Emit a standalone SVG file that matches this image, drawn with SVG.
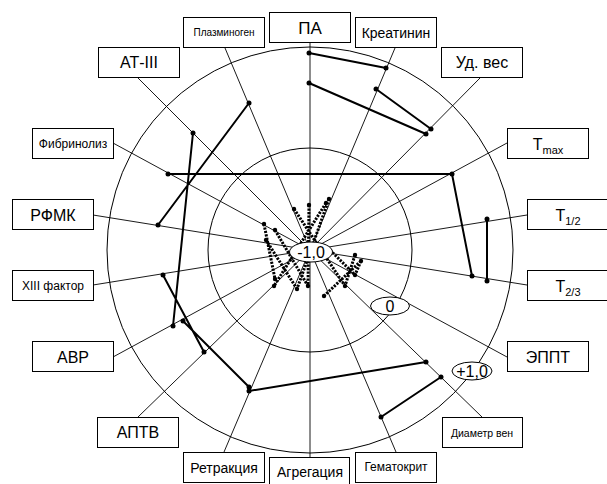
<svg xmlns="http://www.w3.org/2000/svg" width="607" height="484" viewBox="0 0 607 484">
<style>
.bx{fill:#fff;stroke:#000;stroke-width:1}
.t{font-family:"Liberation Sans",Arial,sans-serif;fill:#000;text-anchor:middle}
.ax{stroke:#000;stroke-width:0.9;fill:none}
.ring{stroke:#000;stroke-width:1;fill:none}
.sol{stroke:#000;stroke-width:2;fill:none}
.dot{stroke:#000;stroke-width:3;fill:none;stroke-dasharray:2.2 1.3}
.pt{fill:#000}
.el{fill:#fff;stroke:#000;stroke-width:1}
</style>
<rect width="607" height="484" fill="#fff"/>
<g id="rings">
<circle class="ring" cx="310" cy="250" r="203"/>
<circle class="ring" cx="310" cy="250" r="102"/>
</g>
<g id="connectors">
<line class="ax" x1="310" y1="250" x2="310" y2="43"/>
<line class="ax" x1="310" y1="250" x2="395" y2="48"/>
<line class="ax" x1="310" y1="250" x2="480" y2="78"/>
<line class="ax" x1="310" y1="250" x2="507" y2="143"/>
<line class="ax" x1="310" y1="250" x2="527" y2="215"/>
<line class="ax" x1="310" y1="250" x2="527" y2="285"/>
<line class="ax" x1="310" y1="250" x2="507" y2="357"/>
<line class="ax" x1="310" y1="250" x2="482" y2="417"/>
<line class="ax" x1="310" y1="250" x2="396" y2="452"/>
<line class="ax" x1="310" y1="250" x2="310" y2="457"/>
<line class="ax" x1="310" y1="250" x2="224" y2="452"/>
<line class="ax" x1="310" y1="250" x2="138" y2="417"/>
<line class="ax" x1="310" y1="250" x2="113" y2="357"/>
<line class="ax" x1="310" y1="250" x2="93" y2="285"/>
<line class="ax" x1="310" y1="250" x2="93" y2="215"/>
<line class="ax" x1="310" y1="250" x2="113" y2="143"/>
<line class="ax" x1="310" y1="250" x2="138" y2="78"/>
<line class="ax" x1="310" y1="250" x2="225" y2="48"/>
</g>
<g id="series-solid">
<path class="sol" d="M309,53L386,68M309,83L426,134M376,89L431,129M168,174L452,174L472,276M487,219L487,281M249,103L158,225M193,133L173,326M163,275L204,352M183,321L249,387M249,391L426,362M441,377L381,417"/>
<g class="pt">
<circle cx="309" cy="53" r="2.5"/><circle cx="386" cy="68" r="2.5"/>
<circle cx="309" cy="83" r="2.5"/><circle cx="426" cy="134" r="2.5"/>
<circle cx="376" cy="89" r="2.5"/><circle cx="431" cy="129" r="2.5"/>
<circle cx="168" cy="174" r="2.5"/><circle cx="452" cy="174" r="2.5"/><circle cx="472" cy="276" r="2.5"/>
<circle cx="487" cy="219" r="2.5"/><circle cx="487" cy="281" r="2.5"/>
<circle cx="249" cy="103" r="2.5"/><circle cx="158" cy="225" r="2.5"/>
<circle cx="193" cy="133" r="2.5"/><circle cx="173" cy="326" r="2.5"/>
<circle cx="163" cy="275" r="2.5"/><circle cx="204" cy="352" r="2.5"/>
<circle cx="183" cy="321" r="2.5"/><circle cx="249" cy="387" r="2.5"/>
<circle cx="249" cy="391" r="2.5"/><circle cx="426" cy="362" r="2.5"/>
<circle cx="441" cy="377" r="2.5"/><circle cx="381" cy="417" r="2.5"/>
</g>
</g>
<g id="series-dotted">
<path class="dot" d="M309,205L308,286M329,199L297,289M326,203L274,286M294,209L345,286M264,224L275,279M275,230L308,286M266,240L297,289M355,255L345,286M361,261L324,296M330,250L355,275M361,261L355,275"/>
<g class="pt">
<circle cx="309" cy="205" r="2.2"/><circle cx="308" cy="286" r="2.2"/>
<circle cx="329" cy="199" r="2.2"/><circle cx="297" cy="289" r="2.2"/>
<circle cx="326" cy="203" r="2.2"/><circle cx="274" cy="286" r="2.2"/>
<circle cx="294" cy="209" r="2.2"/><circle cx="345" cy="286" r="2.2"/>
<circle cx="264" cy="224" r="2.2"/><circle cx="275" cy="279" r="2.2"/>
<circle cx="275" cy="230" r="2.2"/><circle cx="266" cy="240" r="2.2"/>
<circle cx="355" cy="255" r="2.2"/><circle cx="361" cy="261" r="2.2"/>
<circle cx="324" cy="296" r="2.2"/><circle cx="355" cy="275" r="2.2"/>
</g>
</g>
<g id="scale">
<ellipse class="el" cx="311" cy="252" rx="21.5" ry="10"/>
<text class="t" x="311" y="258" font-size="16">-1,0</text>
<ellipse class="el" cx="390" cy="306" rx="19.5" ry="9"/>
<text class="t" x="390" y="312" font-size="16">0</text>
<ellipse class="el" cx="472" cy="371" rx="20" ry="9"/>
<text class="t" x="472" y="377" font-size="16">+1,0</text>
</g>
<g id="n-pa"><rect class="bx" x="269.5" y="12.5" width="81" height="30"/><text class="t" x="310" y="34" font-size="17">ПА</text></g>
<g id="n-plazminogen"><rect class="bx" x="183.5" y="17.5" width="81" height="30"/><text class="t" x="224" y="36" font-size="10">Плазминоген</text></g>
<g id="n-kreatinin"><rect class="bx" x="355.5" y="17.5" width="81" height="30"/><text class="t" x="396" y="38" font-size="14">Креатинин</text></g>
<g id="n-at3"><rect class="bx" x="98.5" y="47.5" width="81" height="30"/><text class="t" x="139" y="68" font-size="16">АТ-III</text></g>
<g id="n-udves"><rect class="bx" x="441.5" y="47.5" width="81" height="30"/><text class="t" x="482" y="68" font-size="16">Уд. вес</text></g>
<g id="n-fibrinoliz"><rect class="bx" x="32.5" y="128.5" width="81" height="30"/><text class="t" x="73" y="148" font-size="12">Фибринолиз</text></g>
<g id="n-tmax"><rect class="bx" x="507.5" y="128.5" width="81" height="30"/><text class="t" x="548" y="150" font-size="16">T<tspan font-size="11" dy="4">max</tspan></text></g>
<g id="n-rfmk"><rect class="bx" x="12.5" y="199.5" width="81" height="30"/><text class="t" x="53" y="221" font-size="16">РФМК</text></g>
<g id="n-t12"><rect class="bx" x="527.5" y="199.5" width="81" height="30"/><text class="t" x="568" y="221" font-size="16">T<tspan font-size="11" dy="4">1/2</tspan></text></g>
<g id="n-xiii"><rect class="bx" x="12.5" y="270.5" width="81" height="30"/><text class="t" x="53" y="290" font-size="12">XIII фактор</text></g>
<g id="n-t23"><rect class="bx" x="527.5" y="270.5" width="81" height="30"/><text class="t" x="568" y="292" font-size="16">T<tspan font-size="11" dy="4">2/3</tspan></text></g>
<g id="n-avr"><rect class="bx" x="32.5" y="341.5" width="81" height="30"/><text class="t" x="73" y="363" font-size="16">АВР</text></g>
<g id="n-eppt"><rect class="bx" x="507.5" y="341.5" width="81" height="30"/><text class="t" x="548" y="363" font-size="16">ЭППТ</text></g>
<g id="n-aptv"><rect class="bx" x="97.5" y="417.5" width="81" height="30"/><text class="t" x="138" y="438" font-size="16">АПТВ</text></g>
<g id="n-diametr"><rect class="bx" x="442.5" y="417.5" width="80" height="30"/><text class="t" x="482" y="437" font-size="10.5">Диаметр вен</text></g>
<g id="n-retrakcia"><rect class="bx" x="183.5" y="452.5" width="81" height="30"/><text class="t" x="224" y="473" font-size="14">Ретракция</text></g>
<g id="n-gematokrit"><rect class="bx" x="355.5" y="452.5" width="81" height="30"/><text class="t" x="396" y="471" font-size="12">Гематокрит</text></g>
<g id="n-agregacia"><rect class="bx" x="269.5" y="457.5" width="80" height="30"/><text class="t" x="310" y="477" font-size="14">Агрегация</text></g>
</svg>
